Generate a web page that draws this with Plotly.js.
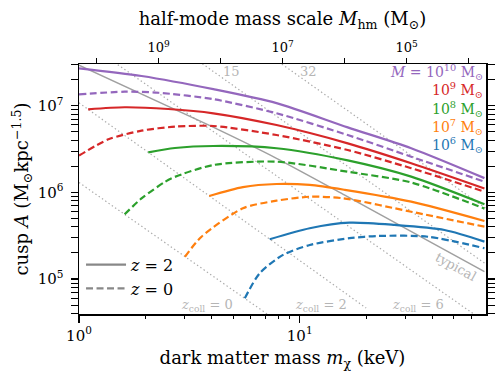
<!DOCTYPE html>
<html>
<head>
<meta charset="utf-8">
<script src="https://cdn.plot.ly/plotly-3.0.1.min.js"></script>
<style>
  html, body { margin: 0; padding: 0; background: white; }
  #cusp-chart { width: 499px; height: 380px; }
</style>
</head>
<body>
<div id="cusp-chart"></div>
<script>
// Cusp amplitude A vs dark matter particle mass, for halo masses 1e6..1e10 Msun,
// at z=2 (solid) and z=0 (dashed).

const FONT = "DejaVu Serif";

// M = 1e10
const m10_z2_m = [1.0, 1.92, 4.06, 7.85, 16.5, 32.0, 68.7];
const m10_z2_A = [2.70e7, 2.20e7, 1.55e7, 1.07e7, 5.62e6, 3.23e6, 1.46e6];
const m10_z0_m = [1.0, 1.61, 2.29, 4.06, 7.85, 16.5, 32.0, 68.7];
const m10_z0_A = [1.35e7, 1.45e7, 1.41e7, 1.19e7, 8.17e6, 4.59e6, 2.58e6, 1.33e6];
// M = 1e9
const m9_z2_m = [1.10, 1.61, 2.54, 4.06, 7.85, 16.5, 32.0, 68.7];
const m9_z2_A = [9.08e6, 9.59e6, 9.16e6, 8.17e6, 5.98e6, 3.68e6, 2.17e6, 1.11e6];
const m9_z0_m = [1.0, 1.36, 1.92, 2.72, 4.06, 7.85, 16.5, 32.0, 68.7];
const m9_z0_A = [2.66e6, 4.09e6, 5.15e6, 5.73e6, 5.83e6, 4.59e6, 3.08e6, 1.90e6, 1.02e6];
// M = 1e8
const m8_z2_m = [2.06, 2.72, 4.06, 7.85, 16.5, 32.0, 68.7];
const m8_z2_A = [2.90e6, 3.25e6, 3.43e6, 3.23e6, 2.34e6, 1.52e6, 7.30e5];
const m8_z0_m = [1.61, 1.92, 2.45, 2.72, 4.06, 7.85, 16.5, 32.0, 68.7];
const m8_z0_A = [5.59e5, 8.51e5, 1.32e6, 1.51e6, 2.07e6, 2.26e6, 1.73e6, 1.30e6, 6.50e5];
// M = 1e7
const m7_z2_m = [3.89, 5.53, 7.85, 11.1, 16.0, 32.0, 68.7];
const m7_z2_A = [9.08e5, 1.15e6, 1.25e6, 1.22e6, 1.07e6, 7.82e5, 4.68e5];
const m7_z0_m = [3.02, 3.59, 5.53, 7.85, 11.1, 15.7, 32.0, 68.7];
const m7_z0_A = [1.81e5, 3.08e5, 6.56e5, 8.02e5, 8.91e5, 8.55e5, 5.98e5, 4.02e5];
// M = 1e6
const m6_z2_m = [7.31, 11.1, 16.8, 26.9, 45.3, 68.7];
const m6_z2_A = [2.88e5, 3.86e5, 4.47e5, 4.21e5, 3.68e5, 2.70e5];
const m6_z0_m = [5.64, 6.59, 8.40, 11.1, 16.8, 22.6, 38.1, 68.7];
const m6_z0_A = [6.01e4, 1.17e5, 1.90e5, 2.47e5, 2.96e5, 3.14e5, 3.08e5, 2.27e5];

// "typical" cusp
const typical_m = [1.0, 3.92, 7.85, 16.0, 68.7];
const typical_A = [2.94e7, 5.88e6, 2.47e6, 9.29e5, 1.22e5];

// collapse-redshift guide lines (two end points each)
const zcoll_vals = [0, 2, 6, 15, 32];
const zcoll_m = [[1.0, 8.0], [1.0, 20.0], [1.4, 70.0], [3.5, 70.0], [7.0, 70.0]];
const zcoll_A = [[1.30e6, 3.21e4], [1.08e7, 4.63e4], [3.36e7, 3.13e4], [3.24e7, 1.48e5], [4.10e7, 6.50e5]];

const haloSeries = [
  { label: "<i>M</i> = 10<sup>10</sup> M<sub>⊙</sub>", color: "#9467bd", z2: [m10_z2_m, m10_z2_A], z0: [m10_z0_m, m10_z0_A] },
  { label: "10<sup>9</sup> M<sub>⊙</sub>", color: "#d62728", z2: [m9_z2_m, m9_z2_A], z0: [m9_z0_m, m9_z0_A] },
  { label: "10<sup>8</sup> M<sub>⊙</sub>", color: "#2ca02c", z2: [m8_z2_m, m8_z2_A], z0: [m8_z0_m, m8_z0_A] },
  { label: "10<sup>7</sup> M<sub>⊙</sub>", color: "#ff7f0e", z2: [m7_z2_m, m7_z2_A], z0: [m7_z0_m, m7_z0_A] },
  { label: "10<sup>6</sup> M<sub>⊙</sub>", color: "#1f77b4", z2: [m6_z2_m, m6_z2_A], z0: [m6_z0_m, m6_z0_A] },
];

// half-mode mass ticks on the top axis
const mhmTicks = [1e10, 1e9, 1e8, 1e7, 1e6, 1e5, 1e4];
const mhmTickText = ["", "10<sup>9</sup>", "", "10<sup>7</sup>", "", "10<sup>5</sup>", ""];

const DASH = "7px,3.5px";
const DOT = "1.4px,2.6px";
const GUIDE = "#aaaaaa";
const LABEL_GRAY = "#b5b5b5";
const SMOOTH = 0.75;

const traces = [];

zcoll_vals.forEach((z, i) => {
  traces.push({
    x: zcoll_m[i], y: zcoll_A[i], mode: "lines", type: "scatter",
    line: { color: GUIDE, width: 1.2, dash: DOT },
    showlegend: false, hoverinfo: "skip",
  });
});

traces.push({
  x: typical_m, y: typical_A, mode: "lines", type: "scatter",
  line: { color: "#a0a0a0", width: 1.5, shape: "spline", smoothing: 0.6 },
  showlegend: false, hoverinfo: "skip",
});

for (const s of haloSeries) {
  traces.push({
    x: s.z2[0], y: s.z2[1], mode: "lines", type: "scatter",
    line: { color: s.color, width: 2.2, shape: "spline", smoothing: SMOOTH },
    showlegend: false,
  });
  traces.push({
    x: s.z0[0], y: s.z0[1], mode: "lines", type: "scatter",
    line: { color: s.color, width: 2.2, dash: DASH, shape: "spline", smoothing: SMOOTH },
    showlegend: false,
  });
}

// legend-only entries for the line styles
traces.push(
  { x: [null], y: [null], mode: "lines", name: "<i>z</i> = 2", line: { color: "#888888", width: 2.2 } },
  { x: [null], y: [null], mode: "lines", name: "<i>z</i> = 0", line: { color: "#888888", width: 2.2, dash: DASH } },
);

// invisible trace so the top axis is drawn
traces.push({ x: [1e9], y: [null], xaxis: "x2", mode: "lines", showlegend: false, hoverinfo: "skip" });

// minor tick positions
const xMinor = [];
for (const d of [1, 10]) for (let k = 2; k <= 9; k++) xMinor.push(k * d);
const yMinor = [];
for (const d of [1e4, 1e5, 1e6, 1e7]) for (let k = 2; k <= 9; k++) yMinor.push(k * d);

const annotations = [];
haloSeries.forEach((s, i) => {
  annotations.push({
    xref: "paper", yref: "paper", x: 0.997, y: 0.968 - i * 0.073,
    xanchor: "right", yanchor: "middle", showarrow: false,
    text: s.label, font: { family: FONT, size: 14, color: s.color },
  });
});
const zcollLabelM = [3.8, 12.5, 34.2];
zcollLabelM.forEach((m, i) => {
  annotations.push({
    x: Math.log10(m), y: Math.log10(4.9e4), showarrow: false,
    text: `<i>z</i><sub>coll</sub> = ${zcoll_vals[i]}`,
    font: { family: FONT, size: 13, color: LABEL_GRAY },
  });
});
[[4.92, 15], [10.98, 32]].forEach(([m, z]) => {
  annotations.push({
    x: Math.log10(m), y: Math.log10(2.45e7), showarrow: false,
    text: String(z), font: { family: FONT, size: 13, color: LABEL_GRAY },
  });
});
annotations.push({
  x: Math.log10(50.8), y: Math.log10(1.41e5), showarrow: false, textangle: 29,
  text: "typical", font: { family: FONT, size: 13, color: LABEL_GRAY },
});

const axisCommon = {
  type: "log", showgrid: false, zeroline: false,
  showline: true, linecolor: "black", linewidth: 1.5,
  ticks: "outside", ticklen: 7, tickwidth: 1.2, tickcolor: "black",
  tickfont: { family: FONT, size: 15, color: "black" },
};

const layout = {
  width: 499, height: 380,
  margin: { l: 79, r: 13, t: 64, b: 66 },
  paper_bgcolor: "white", plot_bgcolor: "white",
  xaxis: {
    ...axisCommon,
    range: [0, 1.844],
    tickvals: [1, 10], ticktext: ["10<sup>0</sup>", "10<sup>1</sup>"],
    minor: { tickmode: "array", tickvals: xMinor, ticks: "outside", ticklen: 3.5, tickwidth: 1, tickcolor: "black" },
    title: { text: "dark matter mass <i>m</i><sub>χ</sub> (keV)", font: { family: FONT, size: 18, color: "black" }, standoff: 8 },
  },
  xaxis2: {
    ...axisCommon,
    overlaying: "x", side: "top", anchor: "y",
    range: [10.285, 3.72],
    tickvals: mhmTicks, ticktext: mhmTickText, ticklen: 5,
    tickfont: { family: FONT, size: 13, color: "black" },
    title: { text: "half-mode mass scale <i>M</i><sub>hm</sub> (M<sub>⊙</sub>)", font: { family: FONT, size: 18, color: "black" }, standoff: 8 },
  },
  yaxis: {
    ...axisCommon,
    range: [4.597, 7.481], mirror: "allticks",
    ticklabelstandoff: 4,
    tickvals: [1e5, 1e6, 1e7], ticktext: ["10<sup>5</sup>", "10<sup>6</sup>", "10<sup>7</sup>"],
    minor: { tickmode: "array", tickvals: yMinor, ticks: "outside", ticklen: 3.5, tickwidth: 1, tickcolor: "black" },
    title: { text: "cusp <i>A</i> (M<sub>⊙</sub>kpc<sup>−1.5</sup>)", font: { family: FONT, size: 18, color: "black" }, standoff: 4 },
  },
  legend: {
    x: 0.005, y: 0.265, xanchor: "left", yanchor: "top",
    bgcolor: "rgba(0,0,0,0)", font: { family: FONT, size: 16, color: "black" },
    itemwidth: 40, tracegroupgap: 2,
  },
  showlegend: true,
  annotations,
};

Plotly.newPlot("cusp-chart", traces, layout, { displayModeBar: false, staticPlot: true });
</script>
</body>
</html>
